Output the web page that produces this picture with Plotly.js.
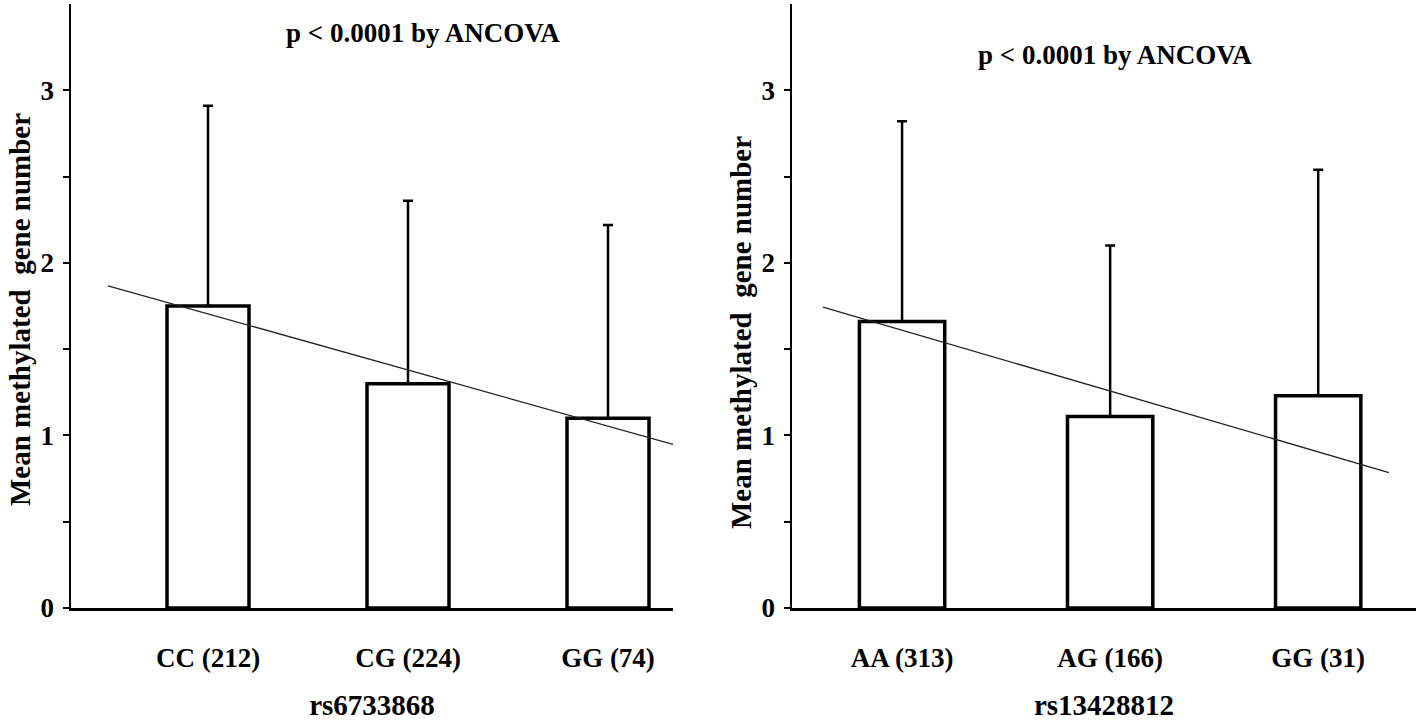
<!DOCTYPE html>
<html>
<head>
<meta charset="utf-8">
<script src="https://cdn.plot.ly/plotly-3.0.1.min.js"></script>
<style>html,body{margin:0;padding:0;background:#fff;}#chart{width:1418px;height:722px;}</style>
</head>
<body>
<div id="chart"></div>
<script>
// Left panel: rs6733868
const catsLeft = ['CC (212)', 'CG (224)', 'GG (74)'];
const meanLeft = [1.75, 1.30, 1.10];
const sdLeft = [1.16, 1.06, 1.12];
const trendLeftX = [-0.5, 2.325];
const trendLeftY = [1.867, 0.948];

// Right panel: rs13428812
const catsRight = ['AA (313)', 'AG (166)', 'GG (31)'];
const meanRight = [1.66, 1.11, 1.23];
const sdRight = [1.16, 0.99, 1.31];
const trendRightX = [-0.38, 2.34];
const trendRightY = [1.744, 0.785];

const yTickVals = [0, 0.5, 1, 1.5, 2, 2.5, 3];
const yTickText = ['0', '', '1', '', '2', '', '3'];
const pText = 'p < 0.0001 by ANCOVA';
const yTitle = 'Mean methylated\u00a0 gene number';
const xTitleLeft = 'rs6733868';
const xTitleRight = 'rs13428812';

const FONT = 'Liberation Serif, Times New Roman, serif';
const idx = a => a.map((_, i) => i);

function barTrace(cats, mean, sd, xa, ya) {
  return {
    type: 'bar', x: idx(cats), y: mean, xaxis: xa, yaxis: ya, width: 0.41,
    marker: {color: '#ffffff', line: {color: '#000', width: 3.5}},
    error_y: {type: 'data', symmetric: false, array: sd, arrayminus: cats.map(() => 0),
              color: '#000', thickness: 2.5, width: 5},
    hoverinfo: 'skip', showlegend: false
  };
}
function lineTrace(x, y, xa, ya) {
  return {type: 'scatter', mode: 'lines', x: x, y: y, xaxis: xa, yaxis: ya,
          line: {color: '#222', width: 1.3}, hoverinfo: 'skip', showlegend: false};
}

const data = [
  barTrace(catsLeft, meanLeft, sdLeft, 'x', 'y'),
  lineTrace(trendLeftX, trendLeftY, 'x', 'y'),
  barTrace(catsRight, meanRight, sdRight, 'x2', 'y2'),
  lineTrace(trendRightX, trendRightY, 'x2', 'y2')
];

function xAxis(cats, range, domain, title, anchor) {
  return {
    domain: domain, range: range, anchor: anchor,
    tickvals: idx(cats), ticktext: cats, ticks: '', showgrid: false, zeroline: false,
    showline: true, linecolor: '#000', linewidth: 2.5,
    tickfont: {family: FONT, size: 27, color: '#000', weight: 'bold'},
    ticklabelstandoff: 24,
    title: {text: title, standoff: 23, font: {family: FONT, size: 29, color: '#000', weight: 'bold'}}
  };
}
function yAxis(domain, anchor) {
  return {
    domain: domain, range: [0, 3.5], anchor: anchor,
    tickvals: yTickVals, ticktext: yTickText, ticks: 'outside', ticklen: 6, tickwidth: 2, tickcolor: '#000',
    showgrid: false, zeroline: false, showline: true, linecolor: '#000', linewidth: 2.5,
    tickfont: {family: FONT, size: 27, color: '#000', weight: 'bold'},
    ticklabelstandoff: 3
  };
}

const yDom = [114 / 722, 718 / 722];
const layout = {
  width: 1418, height: 722,
  margin: {l: 0, r: 0, t: 0, b: 0},
  paper_bgcolor: '#fff', plot_bgcolor: '#fff',
  xaxis: xAxis(catsLeft, [-0.685, 2.325], [71 / 1418, 673 / 1418], xTitleLeft, 'y'),
  yaxis: yAxis(yDom, 'x'),
  xaxis2: xAxis(catsRight, [-0.529, 2.47], [792 / 1418, 1416 / 1418], xTitleRight, 'y2'),
  yaxis2: yAxis(yDom, 'x2'),
  annotations: [
    {text: pText, xref: 'paper', yref: 'paper', x: 423 / 1418, y: (722 - 33) / 722,
     showarrow: false, xanchor: 'center', yanchor: 'middle',
     font: {family: FONT, size: 27, color: '#000', weight: 'bold'}},
    {text: pText, xref: 'paper', yref: 'paper', x: 1115 / 1418, y: (722 - 55) / 722,
     showarrow: false, xanchor: 'center', yanchor: 'middle',
     font: {family: FONT, size: 27, color: '#000', weight: 'bold'}},
    {text: yTitle, xref: 'paper', yref: 'paper', x: 20 / 1418, y: (722 - 310) / 722,
     textangle: -90, showarrow: false, xanchor: 'center', yanchor: 'middle',
     font: {family: FONT, size: 29, color: '#000', weight: 'bold'}},
    {text: yTitle, xref: 'paper', yref: 'paper', x: 741 / 1418, y: (722 - 333) / 722,
     textangle: -90, showarrow: false, xanchor: 'center', yanchor: 'middle',
     font: {family: FONT, size: 29, color: '#000', weight: 'bold'}}
  ]
};

Plotly.newPlot('chart', data, layout, {displayModeBar: false, staticPlot: true});
</script>
</body>
</html>
